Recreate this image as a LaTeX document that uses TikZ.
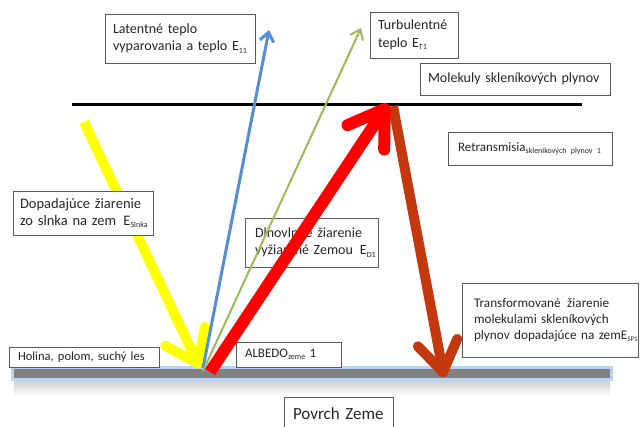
\documentclass[tikz,border=0pt]{standalone}
\usepackage{fontspec}
\setmainfont{Carlito}
\usetikzlibrary{arrows.meta}
\newcommand{\lowsub}[1]{\raisebox{-0.35ex}{\fontsize{8}{8}\selectfont #1}}
\newcommand{\lowsubs}[1]{\raisebox{-0.35ex}{\fontsize{7}{7}\selectfont #1}}
\definecolor{sunyel}{RGB}{255,255,0}
\definecolor{latblue}{RGB}{85,142,213}
\definecolor{turbgreen}{RGB}{155,187,89}
\definecolor{lwred}{RGB}{255,0,0}
\definecolor{trred}{RGB}{196,56,14}
\definecolor{groundgray}{RGB}{128,128,128}
\definecolor{glowblue}{RGB}{170,200,235}
\begin{document}
\begin{tikzpicture}[x=1pt,y=-1pt,
  lbl/.style={draw=black!65, line width=0.9pt, fill=white, align=left,
    text=black!85, font=\fontsize{14}{17.5}\selectfont, anchor=center, inner ysep=2pt},
  sunarrow/.style={draw=sunyel, line width=10pt, -{Straight Barb[round,length=30pt,width=44pt]}},
  latarrow/.style={draw=latblue, line width=3pt, -{Straight Barb[length=9pt,width=14pt]}},
  turbarrow/.style={draw=turbgreen, line width=2pt, -{Straight Barb[length=9pt,width=14pt]}},
  lwarrow/.style={draw=lwred, line width=12pt, -{Straight Barb[round,length=34pt,width=44pt]}},
  trarrow/.style={draw=trred, line width=10pt, -{Straight Barb[round,length=30pt,width=40pt]}}]
\useasboundingbox (0,0) rectangle (640,426);
\fill[white] (0,0) rectangle (640,426);

% ground
\shade[top color=black!18, bottom color=white] (14,381) rectangle (610,396);
\fill[glowblue, opacity=0.8] (11,366) rectangle (613,381);
\fill[groundgray] (14,369) rectangle (610,378);

% greenhouse layer line
\coordinate (gl) at (72,104);
\coordinate (gr) at (582,104);
\draw[line width=3pt, black] (gl) -- (gr);

% coordinates
\coordinate (ys) at (84,122);
\coordinate (yt) at (200,368);
\coordinate (bs) at (203,368);
\coordinate (bt) at (269,30);
\coordinate (ggs) at (203,371);
\coordinate (ggt) at (361,28);
\coordinate (rs) at (210,372);
\coordinate (rt) at (388,104);
\coordinate (ts) at (393,106);
\coordinate (tt) at (444,377);

% solar radiation
\draw[sunarrow] (ys) -- (yt);

% labels
\node[lbl, text width=134pt, inner xsep=8pt, minimum height=49pt] (lat) at (180,38.5)
  {\mbox{Latentné teplo}\\\mbox{vyparovania a teplo E\lowsub{11}}};
\node[lbl, text width=72pt, inner xsep=8pt, minimum height=46pt] (turb) at (414,35)
  {\mbox{Turbulentné}\\\mbox{teplo E\lowsub{T1}}};
\node[lbl, text width=174pt, inner xsep=8pt, minimum height=32pt] (mol) at (515,79)
  {\mbox{Molekuly skleníkových plynov}};
\node[lbl, text width=126pt, inner xsep=7pt, minimum height=44pt, font=\fontsize{14.5}{17.5}\selectfont] (sun) at (83,213)
  {\mbox{Dopadajúce žiarenie}\\\mbox{zo slnka na zem\, E\lowsub{Slnka}}};
\node[lbl, text width=144pt, inner xsep=10pt, minimum height=33pt, font=\fontsize{13}{16}\selectfont] (retr) at (530,148.5)
  {\mbox{Retransmisia\lowsub{skleníkových plynov 1}}};
\node[lbl, text width=152pt, inner xsep=12pt, minimum height=74pt, font=\fontsize{13.2}{16.2}\selectfont] (trans) at (550,320)
  {\mbox{Transformované\, žiarenie}\\\mbox{molekulami skleníkových}\\\mbox{plynov dopadajúce na zemE\lowsubs{SP1}}};
\node[lbl, text width=132pt, inner xsep=9pt, minimum height=20pt, inner ysep=1pt, font=\fontsize{12.5}{14}\selectfont] (hol) at (84,357)
  {\mbox{Holina, polom, suchý les}};
\node[lbl, text width=87pt, inner xsep=9pt, minimum height=25pt, font=\fontsize{13}{15}\selectfont] (alb) at (288.5,354.5)
  {\mbox{ALBEDO\lowsub{zeme} 1}};
\node[lbl, text width=91pt, inner xsep=9pt, minimum height=34pt, font=\fontsize{17}{20}\selectfont] (povrch) at (338.5,414)
  {\mbox{Povrch Zeme}};
\node[lbl, text width=113pt, inner xsep=10pt, minimum height=49pt] (dlh) at (311.5,242.5)
  {\mbox{Dlhovlnné žiarenie}\\\mbox{vyžiarené Zemou\, E\lowsub{D1}}};

% fluxes from the surface
\draw[latarrow] (bs) -- (bt);
\draw[turbarrow] (ggs) -- (ggt);
\draw[trarrow] (ts) -- (tt);
\draw[lwarrow] (rs) -- (rt);
\end{tikzpicture}
\end{document}
